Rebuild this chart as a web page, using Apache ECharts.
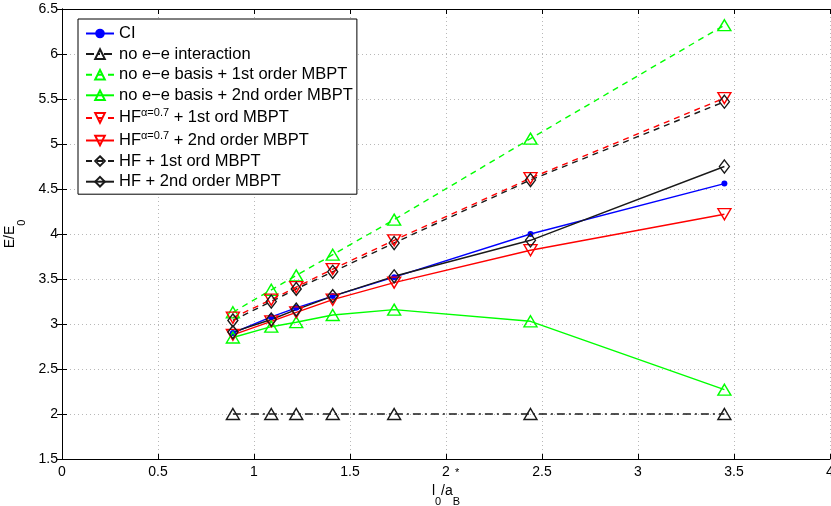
<!DOCTYPE html>
<html><head><meta charset="utf-8">
<script src="https://cdn.jsdelivr.net/npm/echarts@6/dist/echarts.min.js"></script>
<style>html,body{margin:0;padding:0;background:#fff}#c{width:831px;height:506px}</style>
</head><body><div id="c"></div>
<script>
const xVals = [0.89, 1.09, 1.22, 1.41, 1.73, 2.44, 3.45];
const ci    = [2.90, 3.08, 3.18, 3.31, 3.52, 4.00, 4.56];
const noEE  = [2.00, 2.00, 2.00, 2.00, 2.00, 2.00, 2.00];
const noEE1 = [3.13, 3.38, 3.54, 3.77, 4.16, 5.06, 6.32];
const noEE2 = [2.85, 2.97, 3.02, 3.10, 3.16, 3.03, 2.27];
const hfa1  = [3.07, 3.27, 3.41, 3.61, 3.93, 4.62, 5.51];
const hfa2  = [2.88, 3.03, 3.13, 3.27, 3.46, 3.82, 4.22];
const hf1   = [3.04, 3.25, 3.39, 3.58, 3.90, 4.60, 5.47];
const hf2   = [2.91, 3.05, 3.16, 3.31, 3.53, 3.93, 4.75];
const xTicks = ['0','0.5','1','1.5','2','2.5','3','3.5','4'];
const yTicks = ['1.5','2','2.5','3','3.5','4','4.5','5','5.5','6','6.5'];
const names = ['CI','no e−e interaction','no e−e basis + 1st order MBPT','no e−e basis + 2nd order MBPT',
  'HF^α=0.7 + 1st ord MBPT','HF^α=0.7 + 2nd order MBPT','HF + 1st ord MBPT','HF + 2nd order MBPT'];

const pts = a => a.map((v,i)=>[xVals[i], v]);
const FONT = 'Liberation Sans, Arial, Helvetica, sans-serif';
const clear = 'rgba(255,255,255,0)';
function mk(name, data, color, type, symbol, size, rotate, filled){
  return {
    name, type:'line', data: pts(data), color,
    symbol, symbolSize: size, symbolRotate: rotate || 0,
    lineStyle:{color, width:1.4, type},
    itemStyle:{color: filled ? color : clear, borderColor: color, borderWidth: filled?0:1.4},
    emphasis:{disabled:true}, animation:false, z:2
  };
}
const triS=[13,11], diaS=[10,13];
const series = [
  mk(names[0], ci, '#0000ff', 'solid', 'circle', 6, 0, true),
  mk(names[1], noEE, '#1a1a1a', [8,4,2,4], 'triangle', triS, 0, false),
  mk(names[2], noEE1, '#00ff00', [6,5], 'triangle', triS, 0, false),
  mk(names[3], noEE2, '#00ff00', 'solid', 'triangle', triS, 0, false),
  mk(names[4], hfa1, '#ff0000', [6,5], 'triangle', triS, 180, false),
  mk(names[5], hfa2, '#ff0000', 'solid', 'triangle', triS, 180, false),
  mk(names[6], hf1, '#1a1a1a', [6,5], 'diamond', diaS, 0, false),
  mk(names[7], hf2, '#1a1a1a', 'solid', 'diamond', diaS, 0, false)
];

const axisLine = {show:true, lineStyle:{color:'#000', width:1}};
const tick = {show:true, inside:true, length:5, lineStyle:{color:'#000'}};
const grid = {show:true, lineStyle:{color:'#b8b8b8', type:[1,3], width:1}};
const lab = {color:'#000', fontFamily:FONT, fontSize:14};
const nameRich = {
  n:{fontSize:14, fontFamily:FONT, color:'#000', lineHeight:22, verticalAlign:'middle'},
  s:{fontSize:11, fontFamily:FONT, color:'#000', lineHeight:22, verticalAlign:'bottom', padding:[0,0,-6,0]}};

const chart = echarts.init(document.getElementById('c'), null, {renderer:'canvas'});
chart.setOption({
  backgroundColor:'#fff',
  animation:false,
  grid:{left:62, right:1, top:9, bottom:47, containLabel:false, outerBoundsMode:'none'},
  xAxis:[
    {type:'value', min:0, max:4, interval:0.5, position:'bottom',
     axisLine, axisTick:tick, splitLine:grid,
     axisLabel:{...lab, margin:6, formatter:(v)=>xTicks[Math.round(v/0.5)]},
     name:'{n|l}{s|0}{n|/a}{s|B}', nameLocation:'middle', nameGap:16,
     nameTextStyle:{fontFamily:FONT, color:'#000', rich:nameRich}},
    {type:'value', min:0, max:4, interval:0.5, position:'top',
     axisLine, axisTick:tick, splitLine:{show:false}, axisLabel:{show:false}}
  ],
  yAxis:[
    {type:'value', min:1.5, max:6.5, interval:0.5, position:'left',
     axisLine, axisTick:tick, splitLine:grid,
     axisLabel:{...lab, margin:4, formatter:(v)=>yTicks[Math.round((v-1.5)/0.5)]},
     name:'{n|E/E}{s|0}', nameLocation:'middle', nameGap:28, nameRotate:90,
     nameTextStyle:{fontFamily:FONT, color:'#000', rich:nameRich}},
    {type:'value', min:1.5, max:6.5, interval:0.5, position:'right',
     axisLine, axisTick:tick, splitLine:{show:false}, axisLabel:{show:false}}
  ],
  legend:{
    orient:'vertical', left:78, top:19, data:names,
    backgroundColor:'#fff', borderColor:'#000', borderWidth:1,
    padding:[6,4,4,7], itemGap:3.6, itemWidth:28, itemHeight:12,
    textStyle:{fontFamily:FONT, fontSize:16.5, color:'#000',
      rich:{n:{fontFamily:FONT, fontSize:16.5, color:'#000', lineHeight:21, verticalAlign:'middle'},
            sup:{fontFamily:FONT, fontSize:11, color:'#000', lineHeight:1, verticalAlign:'top'}}},
    formatter:(name)=>{
      if(name.indexOf('HF^')===0){
        const rest = name.slice(3);
        const sp = rest.indexOf(' ');
        return '{n|HF}{sup|'+rest.slice(0,sp)+'}{n|'+rest.slice(sp)+'}';
      }
      return '{n|'+name+'}';
    },
    selectedMode:false
  },
  graphic:[{type:'text', left:455, top:467, style:{text:'*', fontSize:11, fontFamily:FONT, fill:'#000'}}],
  series
});
</script></body></html>
